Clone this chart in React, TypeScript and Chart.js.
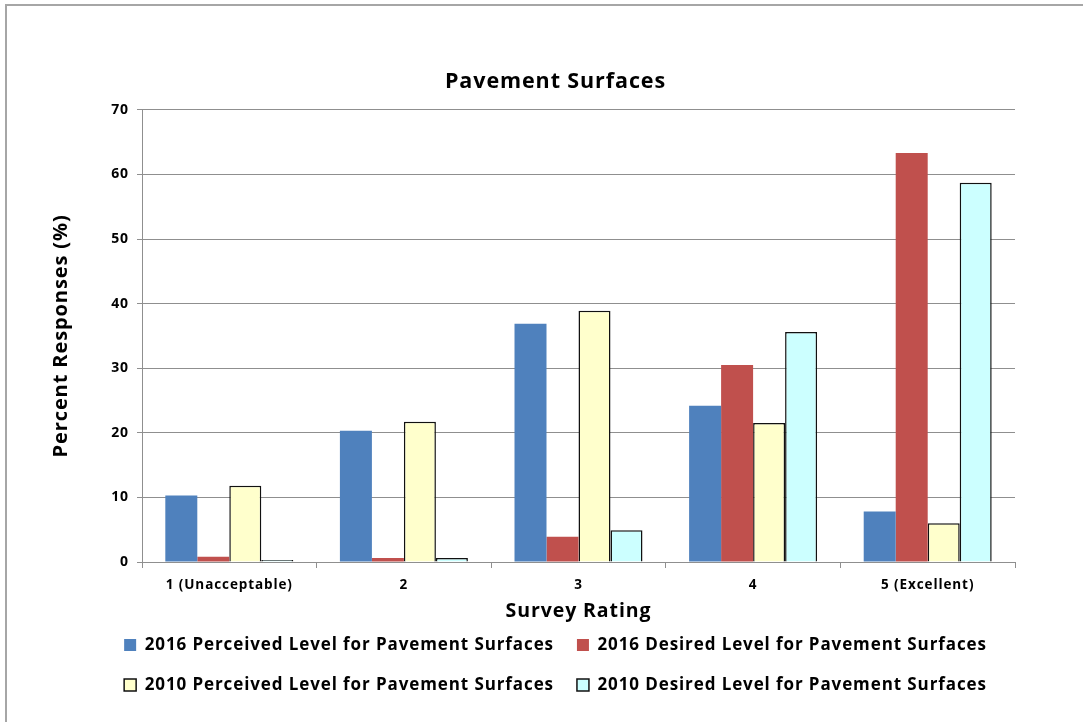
import React, { useEffect, useRef } from "react";
import { Chart, registerables } from "chart.js";

Chart.register(...registerables);

const categories = ["1 (Unacceptable)", "2", "3", "4", "5 (Excellent)"];
const perceived2016 = [10.3, 20.3, 36.9, 24.2, 7.8];
const desired2016 = [0.8, 0.6, 3.9, 30.5, 63.3];
const perceived2010 = [11.8, 21.7, 38.9, 21.5, 6.0];
const desired2010 = [0.3, 0.6, 4.9, 35.6, 58.7];
const yTicks = [0, 10, 20, 30, 40, 50, 60, 70];

const FONT = "'Open Sans', 'DejaVu Sans', sans-serif";
const GRID = "#8f8f8f";

// Slightly open tracking for all chart text
const spacingPlugin = {
  id: "letterSpacing",
  beforeUpdate(chart: any) {
    chart.ctx.letterSpacing = "0.9px";
  },
  beforeDraw(chart: any) {
    chart.ctx.letterSpacing = "0.9px";
  },
};

export default function App() {
  const canvasRef = useRef<HTMLCanvasElement | null>(null);

  useEffect(() => {
    document.body.style.margin = "0";
    const canvas = canvasRef.current;
    if (!canvas) return;
    const chart = new Chart(canvas, {
      type: "bar",
      plugins: [spacingPlugin],
      data: {
        labels: categories,
        datasets: [
          {
            label: "2016 Perceived Level for Pavement Surfaces",
            data: perceived2016,
            backgroundColor: "#4F81BD",
            borderWidth: 0,
          },
          {
            label: "2016 Desired Level for Pavement Surfaces",
            data: desired2016,
            backgroundColor: "#C0504D",
            borderWidth: 0,
          },
          {
            label: "2010 Perceived Level for Pavement Surfaces",
            data: perceived2010,
            backgroundColor: "#FFFFCC",
            borderColor: "#111111",
            borderWidth: 1.5,
          },
          {
            label: "2010 Desired Level for Pavement Surfaces",
            data: desired2010,
            backgroundColor: "#CCFFFF",
            borderColor: "#111111",
            borderWidth: 1.5,
          },
        ],
      },
      options: {
        animation: false,
        responsive: false,
        devicePixelRatio: 1,
        datasets: {
          bar: { categoryPercentage: 0.733, barPercentage: 1 },
        },
        layout: { padding: { left: 28, right: 0, top: 0, bottom: 18.5 } },
        font: { family: FONT },
        plugins: {
          tooltip: { enabled: false },
          title: {
            display: true,
            text: "Pavement Surfaces",
            color: "#000",
            font: { family: FONT, size: 21.5, weight: "bold" },
            padding: { top: 69, bottom: 15 },
          },
          legend: {
            display: true,
            position: "bottom",
            labels: {
              color: "#000",
              font: { family: FONT, size: 17, weight: "bold" },
              boxWidth: 12,
              boxHeight: 12,
              padding: 23,
            },
          },
        },
        scales: {
          x: {
            grid: {
              display: true,
              offset: true,
              drawOnChartArea: false,
              drawTicks: true,
              tickLength: 6,
              tickColor: GRID,
            },
            border: { display: true, color: GRID, width: 1 },
            ticks: {
              color: "#000",
              padding: 9,
              font: { family: FONT, size: 13.5, weight: "bold" },
              maxRotation: 0,
            },
            title: {
              display: true,
              text: "Survey Rating",
              color: "#000",
              font: { family: FONT, size: 19.5, weight: "bold" },
              padding: { top: 0, bottom: -10 },
            },
            afterFit: (s: any) => {
              s.height = 51.5;
            },
          },
          y: {
            min: 0,
            max: 70,
            afterBuildTicks: (s: any) => {
              s.ticks = yTicks.map((v) => ({ value: v }));
            },
            grid: {
              color: GRID,
              lineWidth: 1,
              drawTicks: true,
              tickLength: 5,
              tickColor: GRID,
            },
            border: { display: true, color: GRID, width: 1 },
            ticks: {
              color: "#000",
              padding: 8,
              font: { family: FONT, size: 14, weight: "bold" },
            },
            title: {
              display: true,
              text: "Percent Responses (%)",
              color: "#000",
              font: { family: FONT, size: 20, weight: "bold" },
              padding: { top: 21, bottom: 0 },
            },
            afterFit: (s: any) => {
              s.width = 114;
            },
          },
          yRight: {
            position: "right",
            display: true,
            min: 0,
            max: 70,
            grid: { display: false, drawTicks: false },
            border: { display: false },
            ticks: { display: false },
            afterFit: (s: any) => {
              s.width = 68;
            },
          },
        },
      },
    });
    return () => chart.destroy();
  }, []);

  return (
    <div style={{ position: "relative", width: 1083, height: 722, overflow: "hidden", background: "#fff" }}>
      <canvas ref={canvasRef} width={1083} height={722} style={{ display: "block" }} />
      <div
        style={{
          position: "absolute",
          left: 5,
          top: 4,
          width: 1200,
          height: 900,
          border: "2px solid #a6a6a6",
          pointerEvents: "none",
        }}
      />
    </div>
  );
}
